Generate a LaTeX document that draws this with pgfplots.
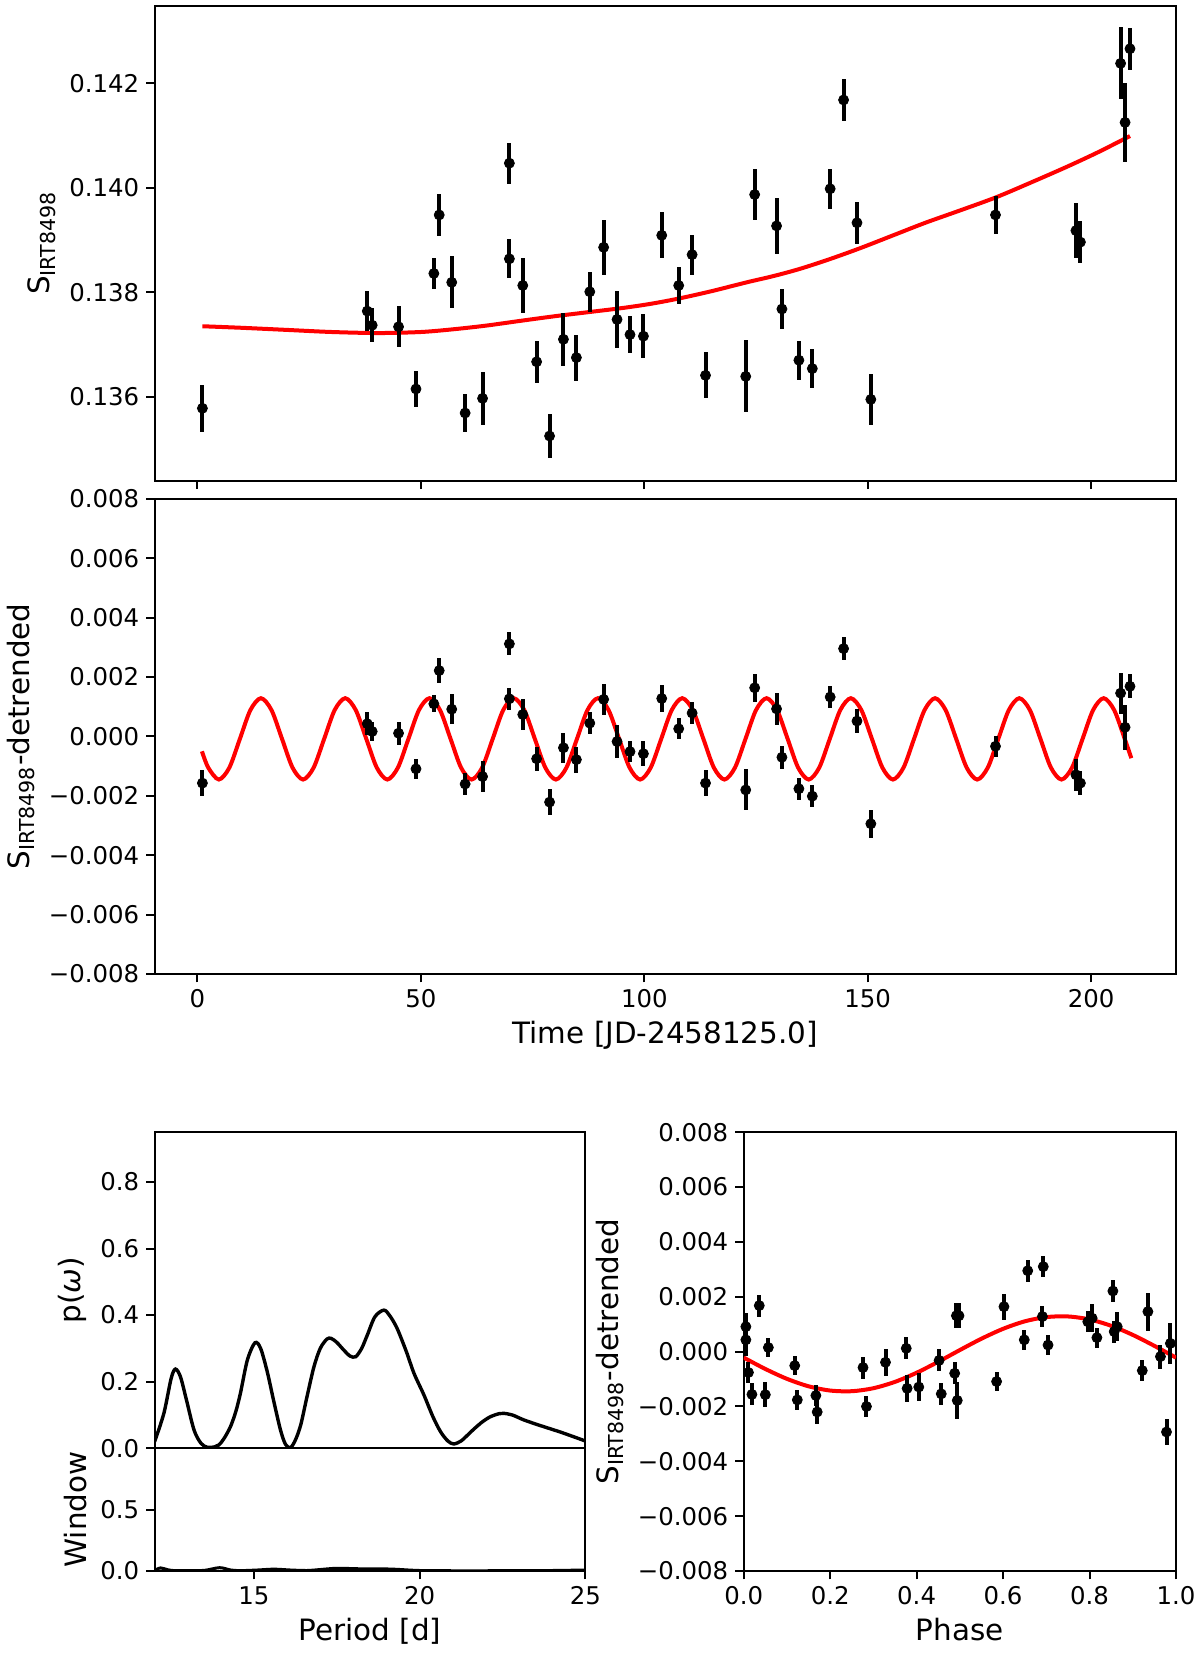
\documentclass[border=0pt]{standalone}
\usepackage{fontspec}
\setmainfont{DejaVu Sans}
\usepackage{pgfplots}
\pgfplotsset{compat=1.18}
\usepackage{pgfplotstable}

% time series: t, S (raw), S detrended, error
\pgfplotstableread{
t y ym e
1.1 0.13578 -0.00157 0.00045
38.0 0.13764 0.00043 0.00038
39.1 0.13737 0.00017 0.00032
45.0 0.13734 0.00011 0.00039
48.9 0.13615 -0.00109 0.00034
52.9 0.13836 0.00110 0.00029
54.1 0.13948 0.00222 0.00041
56.9 0.13819 0.00092 0.00050
59.9 0.13569 -0.00160 0.00036
63.8 0.13597 -0.00135 0.00051
69.8 0.14047 0.00312 0.00039
69.8 0.13864 0.00127 0.00037
72.8 0.13813 0.00074 0.00052
75.9 0.13667 -0.00075 0.00040
78.8 0.13525 -0.00221 0.00043
81.9 0.13710 -0.00038 0.00051
84.8 0.13675 -0.00078 0.00044
87.8 0.13801 0.00045 0.00038
90.9 0.13886 0.00125 0.00052
93.9 0.13748 -0.00017 0.00055
96.8 0.13719 -0.00051 0.00036
99.8 0.13716 -0.00058 0.00042
103.9 0.13909 0.00128 0.00044
107.7 0.13813 0.00026 0.00036
110.7 0.13872 0.00079 0.00038
113.7 0.13641 -0.00157 0.00044
122.7 0.13639 -0.00180 0.00069
124.7 0.13987 0.00164 0.00048
129.6 0.13927 0.00093 0.00054
130.8 0.13768 -0.00070 0.00038
134.6 0.13670 -0.00176 0.00037
137.6 0.13654 -0.00201 0.00037
141.6 0.13998 0.00133 0.00038
144.6 0.14168 0.00296 0.00040
147.6 0.13933 0.00052 0.00040
150.7 0.13595 -0.00294 0.00048
178.6 0.13948 -0.00033 0.00036
196.6 0.13918 -0.00129 0.00053
197.6 0.13896 -0.00157 0.00040
206.6 0.14238 0.00146 0.00069
207.6 0.14125 0.00031 0.00075
208.7 0.14266 0.00169 0.00040
}\obs

% trend fit (top panel)
\pgfplotstableread{
t y
1.1 0.13735
10.0 0.13732
20.0 0.13728
30.0 0.13724
40.5 0.13722
50.0 0.13724
57.0 0.13729
64.4 0.13736
72.0 0.13745
79.8 0.13754
87.5 0.13762
95.2 0.13770
101.5 0.13778
107.7 0.13788
115.0 0.13802
122.9 0.13819
128.9 0.13831
134.9 0.13845
141.7 0.13864
148.5 0.13885
155.7 0.13909
162.9 0.13933
170.8 0.13957
178.8 0.13982
186.8 0.14011
194.8 0.14041
201.8 0.14069
208.7 0.14099
}\trend

% sinusoid fit (middle panel)
\pgfplotstableread{
t y
1.00 -0.00050
2.41 -0.00105
4.77 -0.00145
7.13 -0.00105
9.49 -0.00008
11.84 0.00089
14.20 0.00129
16.56 0.00089
18.92 -0.00008
21.27 -0.00105
23.63 -0.00145
25.99 -0.00105
28.35 -0.00008
30.70 0.00089
33.06 0.00129
35.42 0.00089
37.78 -0.00008
40.13 -0.00105
42.49 -0.00145
44.85 -0.00105
47.21 -0.00008
49.56 0.00089
51.92 0.00129
54.28 0.00089
56.64 -0.00008
58.99 -0.00105
61.35 -0.00145
63.71 -0.00105
66.07 -0.00008
68.42 0.00089
70.78 0.00129
73.14 0.00089
75.50 -0.00008
77.85 -0.00105
80.21 -0.00145
82.57 -0.00105
84.93 -0.00008
87.28 0.00089
89.64 0.00129
92.00 0.00089
94.36 -0.00008
96.71 -0.00105
99.07 -0.00145
101.43 -0.00105
103.79 -0.00008
106.14 0.00089
108.50 0.00129
110.86 0.00089
113.22 -0.00008
115.57 -0.00105
117.93 -0.00145
120.29 -0.00105
122.65 -0.00008
125.00 0.00089
127.36 0.00129
129.72 0.00089
132.08 -0.00008
134.43 -0.00105
136.79 -0.00145
139.15 -0.00105
141.51 -0.00008
143.86 0.00089
146.22 0.00129
148.58 0.00089
150.94 -0.00008
153.29 -0.00105
155.65 -0.00145
158.01 -0.00105
160.37 -0.00008
162.72 0.00089
165.08 0.00129
167.44 0.00089
169.80 -0.00008
172.15 -0.00105
174.51 -0.00145
176.87 -0.00105
179.23 -0.00008
181.58 0.00089
183.94 0.00129
186.30 0.00089
188.66 -0.00008
191.01 -0.00105
193.37 -0.00145
195.73 -0.00105
198.09 -0.00008
200.44 0.00089
202.80 0.00129
205.16 0.00089
207.52 -0.00008
209.00 -0.00073
}\sine

% periodogram
\pgfplotstableread{
p y
12.00 0.020
12.28 0.105
12.50 0.210
12.63 0.238
12.78 0.215
12.95 0.150
13.19 0.055
13.40 0.015
13.59 0.003
13.80 0.004
13.94 0.010
14.10 0.030
14.29 0.065
14.45 0.110
14.59 0.165
14.80 0.265
15.03 0.317
15.20 0.300
15.40 0.230
15.60 0.140
15.80 0.055
15.95 0.012
16.10 0.002
16.25 0.025
16.41 0.070
16.60 0.155
16.81 0.245
17.00 0.300
17.20 0.328
17.33 0.330
17.50 0.318
17.71 0.295
17.90 0.277
18.07 0.275
18.25 0.300
18.42 0.340
18.65 0.395
18.92 0.415
19.10 0.398
19.32 0.360
19.60 0.290
19.83 0.225
20.13 0.160
20.40 0.095
20.63 0.050
20.85 0.022
21.03 0.013
21.25 0.022
21.45 0.040
21.64 0.058
21.90 0.080
22.14 0.095
22.40 0.104
22.54 0.105
22.80 0.100
23.15 0.085
23.65 0.068
24.30 0.047
25.00 0.022
}\pgram

% window function
\pgfplotstableread{
p y
12.00 0.005
12.18 0.025
12.40 0.010
12.60 0.003
13.00 0.004
13.50 0.005
13.96 0.027
14.30 0.008
14.60 0.003
15.10 0.008
15.60 0.015
16.10 0.008
16.60 0.004
17.00 0.012
17.50 0.022
18.20 0.018
19.10 0.016
19.80 0.006
20.20 0.003
21.00 0.002
22.00 0.002
23.00 0.003
24.00 0.004
25.00 0.008
}\window

% phase-folded data
\pgfplotstableread{
ph y e
0.005 0.00091 0.00050
0.005 0.00043 0.00060
0.011 -0.00076 0.00040
0.036 0.00168 0.00040
0.057 0.00015 0.00035
0.019 -0.00156 0.00040
0.050 -0.00157 0.00045
0.118 -0.00051 0.00035
0.124 -0.00176 0.00037
0.167 -0.00160 0.00040
0.170 -0.00220 0.00043
0.276 -0.00058 0.00040
0.284 -0.00200 0.00037
0.328 -0.00039 0.00050
0.376 0.00012 0.00040
0.378 -0.00134 0.00050
0.405 -0.00129 0.00050
0.452 -0.00032 0.00040
0.457 -0.00154 0.00040
0.488 -0.00079 0.00040
0.494 -0.00178 0.00069
0.492 0.00131 0.00045
0.498 0.00131 0.00045
0.585 -0.00109 0.00034
0.602 0.00164 0.00048
0.649 0.00043 0.00036
0.657 0.00295 0.00040
0.693 0.00310 0.00039
0.691 0.00128 0.00037
0.704 0.00024 0.00036
0.796 0.00109 0.00038
0.806 0.00122 0.00052
0.817 0.00051 0.00036
0.854 0.00221 0.00041
0.857 0.00073 0.00040
0.864 0.00091 0.00054
0.922 -0.00069 0.00038
0.935 0.00146 0.00069
0.964 -0.00018 0.00044
0.987 0.00030 0.00075
0.978 -0.00293 0.00048
}\phase

% phase-folded model
\pgfplotstableread{
ph y
0.00 -0.000218
0.05 -0.000632
0.10 -0.000992
0.15 -0.001264
0.20 -0.001419
0.25 -0.001443
0.30 -0.001334
0.35 -0.001102
0.40 -0.000770
0.45 -0.000370
0.50 0.000058
0.55 0.000472
0.60 0.000832
0.65 0.001104
0.70 0.001259
0.75 0.001283
0.80 0.001174
0.85 0.000942
0.90 0.000610
0.95 0.000210
1.00 -0.000218
}\phasefit

\pgfplotsset{
  panel/.style={
    scale only axis,
    anchor=south west,
    enlargelimits=false,
    scaled x ticks=false,
    scaled y ticks=false,
    axis line style={line width=1pt, black},
    tick align=outside,
    tick pos=left,
    tick style={black, line width=1pt},
    major tick length=4.2pt,
    tick label style={font=\fontsize{12.2}{14.6}\selectfont},
    label style={font=\fontsize{14.7}{17.6}\selectfont},
    /pgf/number format/assume math mode=true,
  },
  errpts/.style={
    only marks, mark=*, mark size=2.5pt, black,
    error bars/.cd, y dir=both, y explicit,
    error bar style={line width=2pt, black}, error mark=none
  },
  redfit/.style={red, line width=2pt, smooth, no markers},
}

\begin{document}
\begin{tikzpicture}
\useasboundingbox (0,0) rectangle (600pt,827pt);

% ---------- top panel ----------
\begin{axis}[panel,
  at={(77.3pt,586.65pt)}, width=510.7pt, height=237.5pt,
  xmin=-9.6, xmax=219, ymin=0.134395, ymax=0.143484,
  xtick={0,50,100,150,200}, xticklabel=\empty,
  ytick={0.136,0.138,0.140,0.142},
  yticklabels={0.136,0.138,0.140,0.142},
  ylabel={S\textsubscript{IRT8498}},
]
\addplot[redfit] table[x=t,y=y]{\trend};
\addplot[errpts] table[x=t,y=y,y error=e]{\obs};
\end{axis}

% ---------- middle panel ----------
\begin{axis}[panel,
  at={(77.3pt,340pt)}, width=510.7pt, height=237.5pt,
  xmin=-9.6, xmax=219, ymin=-0.008, ymax=0.008,
  xtick={0,50,100,150,200}, xticklabels={0,50,100,150,200},
  ytick={-0.008,-0.006,-0.004,-0.002,0,0.002,0.004,0.006,0.008},
  yticklabels={−0.008,−0.006,−0.004,−0.002,0.000,0.002,0.004,0.006,0.008},
  ylabel={S\textsubscript{IRT8498}-detrended},
  xlabel={Time [JD-2458125.0]},
]
\addplot[redfit] table[x=t,y=y]{\sine};
\addplot[errpts] table[x=t,y=ym,y error=e]{\obs};
\end{axis}

% ---------- periodogram ----------
\begin{axis}[panel,
  at={(77.3pt,102.85pt)}, width=215.35pt, height=158pt,
  xmin=12, xmax=25, ymin=0, ymax=0.949,
  xtick=\empty,
  ytick={0,0.2,0.4,0.6,0.8},
  yticklabels={0.0,0.2,0.4,0.6,0.8},
  ylabel={p(\textit{ω})},
]
\addplot[black, line width=1.7pt, smooth, no markers] table[x=p,y=y]{\pgram};
\end{axis}

% ---------- window ----------
\begin{axis}[panel,
  at={(77.3pt,41.5pt)}, width=215.35pt, height=61.35pt,
  xmin=12, xmax=25, ymin=0, ymax=1.0,
  xtick={15,20,25}, xticklabels={15,20,25},
  ytick={0,0.5}, yticklabels={0.0,0.5},
  ylabel={Window},
  xlabel={Period [d]},
]
\addplot[black, line width=1.5pt, smooth, no markers] table[x=p,y=y]{\window};
\end{axis}

% ---------- phase-folded ----------
\begin{axis}[panel,
  at={(371.85pt,41.5pt)}, width=216.15pt, height=219.35pt,
  xmin=0, xmax=1, ymin=-0.008, ymax=0.008,
  xtick={0,0.2,0.4,0.6,0.8,1.0},
  xticklabels={0.0,0.2,0.4,0.6,0.8,1.0},
  ytick={-0.008,-0.006,-0.004,-0.002,0,0.002,0.004,0.006,0.008},
  yticklabels={−0.008,−0.006,−0.004,−0.002,0.000,0.002,0.004,0.006,0.008},
  ylabel={S\textsubscript{IRT8498}-detrended},
  xlabel={Phase},
]
\addplot[redfit] table[x=ph,y=y]{\phasefit};
\addplot[errpts] table[x=ph,y=y,y error=e]{\phase};
\end{axis}
\end{tikzpicture}
\end{document}
